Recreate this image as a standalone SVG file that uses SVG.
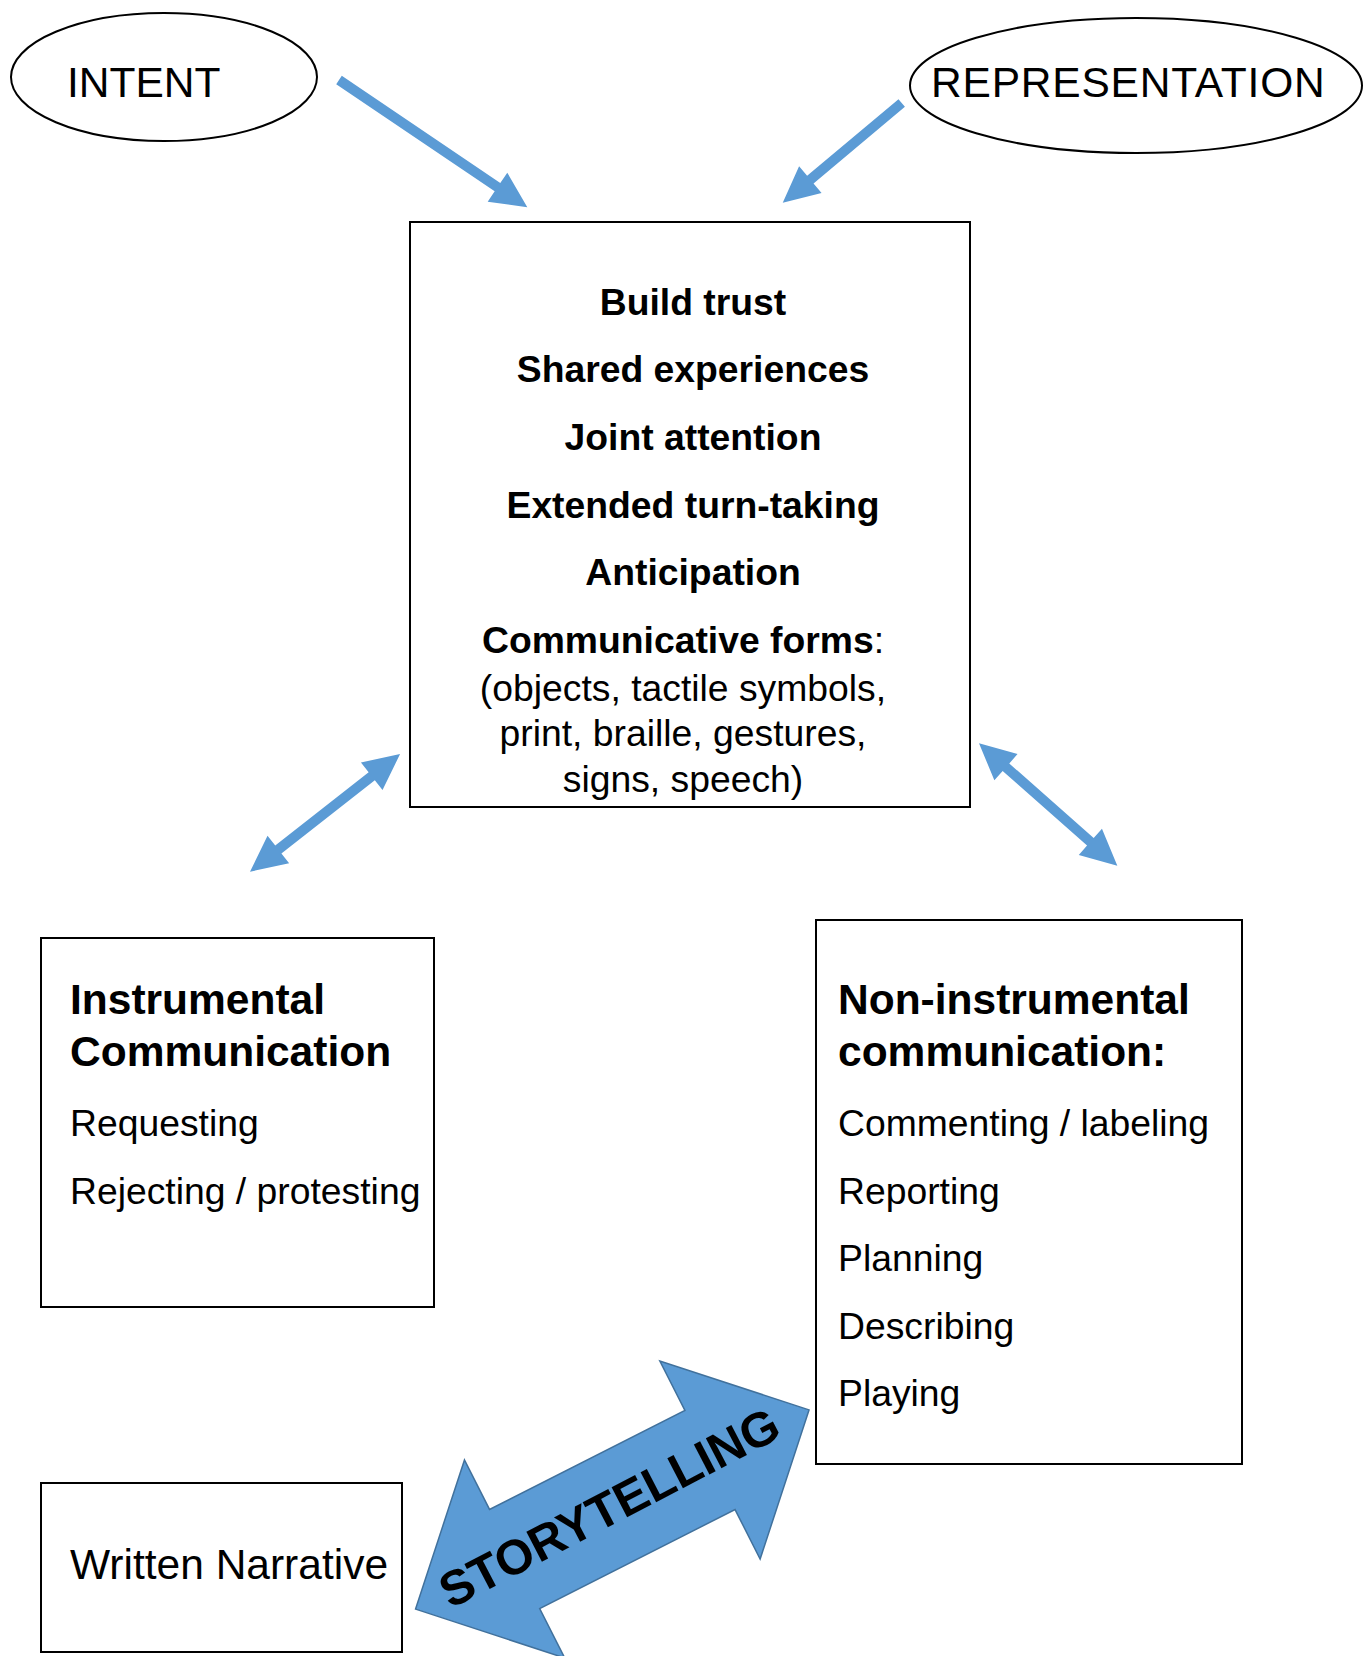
<svg xmlns="http://www.w3.org/2000/svg" width="1364" height="1656" viewBox="0 0 1364 1656">
  <style>
    .shape { fill: #ffffff; stroke: #000000; stroke-width: 2; }
    .txt { font-family: "Liberation Sans", Arial, sans-serif; fill: #000000; }
    .big { font-size: 42.5px; }
    .bold { font-weight: bold; }
    .mid { font-size: 37.3px; }
    .c { text-anchor: middle; }
    .blue { fill: #5B9BD5; }
    .band { fill: #5B9BD5; stroke: #41719C; stroke-width: 1.5; }
  </style>

  <rect width="1364" height="1656" fill="#ffffff"/>

  <!-- arrows linking the nodes -->
  <g id="connectors">
    <!-- intent into the centre box -->
    <polygon class="blue" transform="translate(339,80) rotate(34.06)"
             points="0,-5 191.3,-5 191.3,-17.5 227.3,0 191.3,17.5 191.3,5 0,5"/>
    <!-- representation into the centre box -->
    <polygon class="blue" transform="translate(901.7,103) rotate(140.04)"
             points="0,-5 119.2,-5 119.2,-17.5 155.2,0 119.2,17.5 119.2,5 0,5"/>
    <!-- centre box to instrumental -->
    <polygon class="blue" transform="translate(250,871.7) rotate(-38.1)"
             points="0,0 36,-17.5 36,-5 154.7,-5 154.7,-17.5 190.7,0 154.7,17.5 154.7,5 36,5 36,17.5"/>
    <!-- centre box to non-instrumental -->
    <polygon class="blue" transform="translate(979,743.3) rotate(41.5)"
             points="0,0 36,-17.5 36,-5 148.7,-5 148.7,-17.5 184.7,0 148.7,17.5 148.7,5 36,5 36,17.5"/>
    <!-- storytelling band between written narrative and non-instrumental -->
    <g id="storytelling" transform="translate(612.3,1509.5) rotate(-26.85)">
      <polygon class="band"
               points="-220.5,0 -109.5,-111 -109.5,-55.5 109.5,-55.5 109.5,-111 220.5,0 109.5,111 109.5,55.5 -109.5,55.5 -109.5,111"/>
    </g>
    <text class="txt bold c" font-size="49" transform="translate(609,1507) rotate(-27.5)" x="0" y="17.5">STORYTELLING</text>
  </g>

  <g id="intent">
    <ellipse class="shape" cx="164" cy="77" rx="153" ry="64"/>
    <text class="txt big" x="67" y="97">INTENT</text>
  </g>

  <g id="representation">
    <ellipse class="shape" cx="1136" cy="85.5" rx="226" ry="67.5"/>
    <text class="txt big" x="931" y="97" letter-spacing="0.8">REPRESENTATION</text>
  </g>

  <g id="foundations">
    <rect class="shape" x="410" y="222" width="560" height="585"/>
    <text class="txt mid bold c" x="693" y="315">Build trust</text>
    <text class="txt mid bold c" x="693" y="382">Shared experiences</text>
    <text class="txt mid bold c" x="693" y="450">Joint attention</text>
    <text class="txt mid bold c" x="693" y="518">Extended turn-taking</text>
    <text class="txt mid bold c" x="693" y="585">Anticipation</text>
    <text class="txt mid c" x="683" y="653"><tspan font-weight="bold">Communicative forms</tspan>:</text>
    <text class="txt mid c" x="683" y="700.5">(objects, tactile symbols,</text>
    <text class="txt mid c" x="683" y="746">print, braille, gestures,</text>
    <text class="txt mid c" x="683" y="791.5">signs, speech)</text>
  </g>

  <g id="instrumental">
    <rect class="shape" x="41" y="938" width="393" height="369"/>
    <text class="txt big bold" x="70" y="1014">Instrumental</text>
    <text class="txt big bold" x="70" y="1066">Communication</text>
    <text class="txt mid" x="70" y="1135.5">Requesting</text>
    <text class="txt mid" x="70" y="1203.5">Rejecting / protesting</text>
  </g>

  <g id="non-instrumental">
    <rect class="shape" x="816" y="920" width="426" height="544"/>
    <text class="txt big bold" x="838" y="1014">Non-instrumental</text>
    <text class="txt big bold" x="838" y="1066">communication:</text>
    <text class="txt mid" x="838" y="1135.5">Commenting / labeling</text>
    <text class="txt mid" x="838" y="1203.5">Reporting</text>
    <text class="txt mid" x="838" y="1270.5">Planning</text>
    <text class="txt mid" x="838" y="1338.5">Describing</text>
    <text class="txt mid" x="838" y="1405.5">Playing</text>
  </g>

  <g id="written-narrative">
    <rect class="shape" x="41" y="1483" width="361" height="169"/>
    <text class="txt big" x="70" y="1579">Written Narrative</text>
  </g>
</svg>
